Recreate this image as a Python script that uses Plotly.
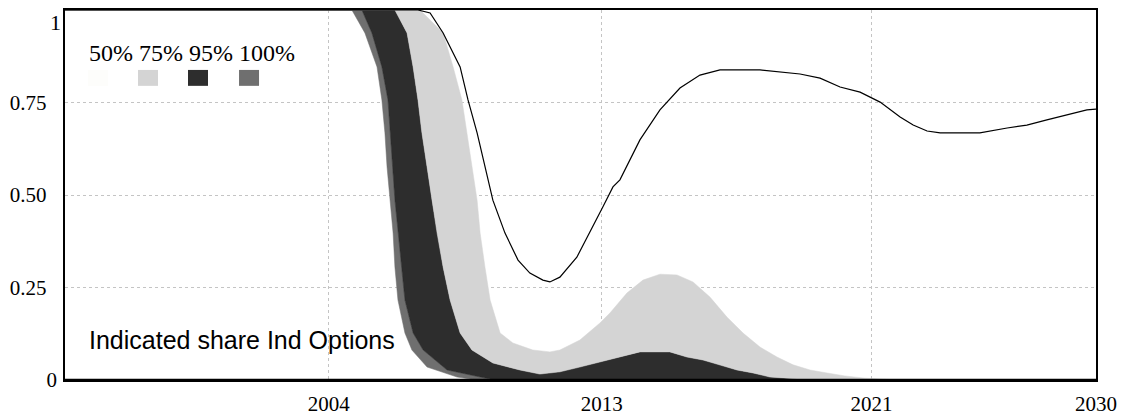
import plotly.graph_objects as go

# ---- data (years, share 0..1) ----
min_t = [1996, 2005.46, 2005.89, 2006.29, 2006.45, 2006.55, 2006.62, 2006.72, 2006.82, 2006.88, 2006.98, 2007.21, 2007.44, 2007.94, 2008.93, 2009.6, 2030]
min_v = [1.0, 1.0, 0.938, 0.846, 0.757, 0.668, 0.576, 0.486, 0.397, 0.305, 0.216, 0.127, 0.081, 0.035, 0.008, 0.0, 0.0]

p025_t = [1996, 2005.79, 2006.12, 2006.45, 2006.65, 2006.88, 2007.21, 2007.48, 2007.81, 2008.60, 2009.69, 2010.2, 2030]
p025_v = [1.0, 1.0, 0.938, 0.846, 0.757, 0.486, 0.216, 0.127, 0.081, 0.027, 0.008, 0.0, 0.0]

p125_t = [1996, 2006.88, 2007.28, 2007.48, 2007.64, 2007.77, 2007.94, 2008.10, 2008.27, 2008.47, 2008.70, 2009.03,
          2009.42, 2010.11, 2011.00, 2011.66, 2012.32, 2012.98, 2013.64, 2014.30, 2014.96, 2015.95, 2016.51, 2017.04,
          2017.60, 2018.16, 2018.69, 2019.25, 2020.17, 2021.0, 2030]
p125_v = [1.0, 1.0, 0.938, 0.846, 0.757, 0.668, 0.576, 0.486, 0.397, 0.305, 0.216, 0.127,
          0.081, 0.046, 0.027, 0.016, 0.022, 0.035, 0.049, 0.062, 0.076, 0.076, 0.062, 0.054,
          0.041, 0.027, 0.019, 0.008, 0.003, 0.0, 0.0]

p25_t = [1996, 2007.71, 2008.47, 2008.80, 2009.09, 2009.26, 2009.42, 2009.59, 2009.69, 2009.85, 2010.02, 2010.35,
         2010.77, 2011.43, 2011.99, 2012.32, 2012.98, 2013.64, 2013.97, 2014.53, 2015.06, 2015.62, 2016.18, 2016.71,
         2017.27, 2017.83, 2018.36, 2018.92, 2019.48, 2020.01, 2020.57, 2021.13, 2021.72, 2022.38, 2023.5, 2030]
p25_v = [1.0, 1.0, 0.938, 0.846, 0.757, 0.668, 0.576, 0.486, 0.397, 0.305, 0.216, 0.127,
         0.100, 0.081, 0.076, 0.081, 0.108, 0.154, 0.181, 0.235, 0.270, 0.286, 0.284, 0.265,
         0.224, 0.170, 0.127, 0.089, 0.062, 0.041, 0.027, 0.019, 0.011, 0.005, 0.0, 0.0]

run_t = [1996, 2007.64, 2008.04, 2008.47, 2009.03, 2009.29, 2009.59, 2009.85, 2010.11, 2010.51, 2010.94, 2011.33,
         2011.76, 2011.99, 2012.32, 2012.88, 2013.41, 2013.74, 2014.07, 2014.30, 2014.96, 2015.62, 2016.28, 2016.94,
         2017.60, 2018.92, 2020.24, 2020.90, 2021.56, 2022.22, 2022.88, 2023.54, 2023.97, 2024.43, 2024.86, 2026.17,
         2027.07, 2027.72, 2028.38, 2029.04, 2029.70, 2030]
run_v = [1.0, 1.0, 0.992, 0.938, 0.846, 0.757, 0.668, 0.576, 0.486, 0.397, 0.324, 0.289,
         0.270, 0.265, 0.278, 0.332, 0.414, 0.468, 0.522, 0.541, 0.649, 0.730, 0.789, 0.824,
         0.838, 0.838, 0.827, 0.816, 0.792, 0.778, 0.751, 0.711, 0.689, 0.673, 0.668, 0.668,
         0.681, 0.689, 0.703, 0.716, 0.730, 0.732]

x_tick_vals = [2004.7, 2013.7, 2022.6, 2030]
x_tick_text = ["2004", "2013", "2021", "2030"]
y_tick_vals = [0, 0.25, 0.5, 0.75]
y_tick_text = ["0", "0.25\u00a0\u00a0", "0.50\u00a0\u00a0", "0.75\u00a0\u00a0"]
y_top_label = "1"

band_labels = ["50%", "75%", "95%", "100%"]
band_colors = {"50%": "#fdfdfb", "75%": "#d4d4d4", "95%": "#2d2d2d", "100%": "#6f6f6f"}
title_text = "Indicated share Ind Options"

SERIF = "Liberation Serif, Times New Roman, serif"
SANS = "Liberation Sans, Arial, sans-serif"

fig = go.Figure()


def band(lo_t, lo_v, hi_t, hi_v, color, name):
    xs = list(lo_t) + list(reversed(hi_t))
    ys = list(lo_v) + list(reversed(hi_v))
    fig.add_trace(go.Scatter(x=xs, y=ys, mode="lines", fill="toself", fillcolor=color,
                             line=dict(color=color, width=0.5), name=name, showlegend=False,
                             hoverinfo="skip"))


band(min_t, min_v, p025_t, p025_v, band_colors["100%"], "100%")
band(p025_t, p025_v, p125_t, p125_v, band_colors["95%"], "95%")
band(p125_t, p125_v, p25_t, p25_v, band_colors["75%"], "75%")

fig.add_trace(go.Scatter(x=run_t, y=run_v, mode="lines", line=dict(color="black", width=1.2),
                         showlegend=False, name="run"))

# legend (Vensim style): labels in a row, swatches below
fig.add_annotation(x=0.0213, y=0.884, xref="paper", yref="paper", xanchor="left", yanchor="middle",
                   text=" ".join(band_labels), showarrow=False,
                   font=dict(family=SERIF, size=24, color="black"))
sw_x = {"50%": 0.0223, "75%": 0.0708, "95%": 0.1193, "100%": 0.1688}
for lab in band_labels:
    fig.add_shape(type="rect", xref="paper", yref="paper", x0=sw_x[lab], x1=sw_x[lab] + 0.0194,
                  y0=0.795, y1=0.838, fillcolor=band_colors[lab], line=dict(width=0))

fig.add_annotation(x=0.0213, y=0.108, xref="paper", yref="paper", xanchor="left", yanchor="middle",
                   text=title_text, showarrow=False,
                   font=dict(family=SANS, size=25, color="black"))

# top value label of the y axis (sits just below the top edge, as in the reference)
fig.add_annotation(x=0, y=1, xref="paper", yref="paper", xanchor="right", yanchor="top",
                   xshift=-2, yshift=2, text=y_top_label, showarrow=False,
                   font=dict(family=SERIF, size=22, color="black"))

fig.update_layout(
    width=1133, height=419,
    margin=dict(l=65, r=37, t=10, b=39, autoexpand=False),
    paper_bgcolor="white", plot_bgcolor="white",
    font=dict(family=SERIF, size=21, color="black"),
    xaxis=dict(range=[1996, 2030], tickvals=x_tick_vals, ticktext=x_tick_text, ticks="",
               tickfont=dict(family=SERIF, size=21),
               showgrid=True, gridcolor="#c4c4c4", griddash="dot", gridwidth=1,
               showline=True, linecolor="black", linewidth=1.6, mirror=True, zeroline=False,
               ticklabelstandoff=4, layer="above traces", automargin=False),
    yaxis=dict(range=[0, 1], tickvals=y_tick_vals, ticktext=y_tick_text, ticks="",
               tickfont=dict(family=SERIF, size=21),
               showgrid=True, gridcolor="#c4c4c4", griddash="dot", gridwidth=1,
               showline=True, linecolor="black", linewidth=1.6, mirror=True, zeroline=False,
               ticklabelstandoff=2, layer="above traces", automargin=False),
)

# slightly heavier baseline as in the reference
fig.add_shape(type="line", xref="paper", yref="paper", x0=0, x1=1, y0=0, y1=0,
              line=dict(color="black", width=2.5))

fig.write_html("out.html")
